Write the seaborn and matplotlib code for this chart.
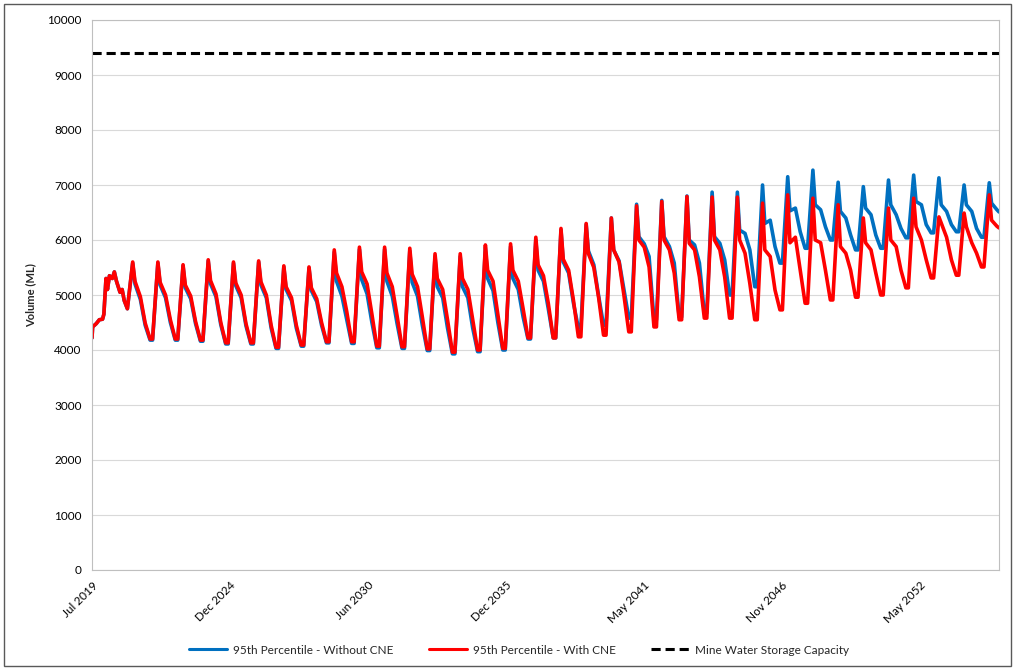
import pandas as pd
import matplotlib
matplotlib.use('Agg')
import matplotlib.pyplot as plt
from matplotlib.lines import Line2D
from matplotlib.patches import Rectangle
import seaborn as sns

# --- values (ML) ---
# first 16 months before the yearly cycle settles
start_dates = ['2019-07-01', '2019-07-10', '2019-09-01', '2019-10-15', '2019-12-01', '2019-12-20',
               '2020-01-20', '2020-02-10', '2020-03-10', '2020-04-20', '2020-05-20', '2020-06-20',
               '2020-08-10', '2020-09-10', '2020-10-10', '2020-11-25']
start_values = [4220, 4420, 4480, 4550, 4560, 4650, 5300, 5100, 5350, 5300, 5420, 5250,
                5050, 5100, 4900, 4750]

cycle_years = list(range(2021, 2056))
end_date = '2055-07-01'

# with CNE (red): yearly peak (Feb), drop (Mar), shoulder (Jun), late (Aug), trough (Oct-Nov)
red_peak = [5600, 5600, 5550, 5640, 5600, 5620, 5530, 5510,
            5820, 5870, 5870, 5850, 5750, 5750, 5910, 5930,
            6050, 6210, 6300, 6400, 6620, 6700, 6790, 6780, 6780, 6670,
            6820, 6760, 6640, 6400, 6580, 6760, 6420, 6490, 6820]
red_drop = [5250, 5230, 5180, 5260, 5220, 5240, 5150, 5130,
            5400, 5420, 5400, 5380, 5300, 5300, 5450, 5450,
            5550, 5650, 5750, 5820, 6000, 6000, 5940, 6000, 6000, 5820,
            5950, 6000, 5880, 5950, 6000, 6240, 6310, 6240, 6360]
red_shoulder = [4970, 5000, 4980, 5020, 5000, 5000, 4950, 4930,
                5150, 5200, 5150, 5150, 5100, 5100, 5250, 5250,
                5350, 5450, 5500, 5600, 5870, 5820, 5820, 5820, 5760, 5700,
                6050, 5950, 5760, 5820, 5880, 6000, 6050, 5950, 6250]
red_late = [4490, 4550, 4520, 4500, 4480, 4450, 4450, 4500,
            4700, 4650, 4620, 4600, 4550, 4550, 4650, 4750,
            4850, 4900, 4950, 5000, 5510, 5400, 5330, 5330, 5210, 5090,
            5450, 5450, 5450, 5400, 5450, 5640, 5640, 5760]
red_trough = [4200, 4200, 4180, 4130, 4130, 4050, 4090, 4150,
              4150, 4070, 4060, 4020, 3960, 4000, 4030, 4220,
              4220, 4240, 4270, 4330, 4420, 4550, 4580, 4580, 4550, 4730,
              4850, 4910, 4960, 5000, 5130, 5310, 5360, 5510]
red_end = 6220

# without CNE (blue)
blue_peak = [5580, 5580, 5530, 5620, 5580, 5600, 5510, 5490,
             5780, 5830, 5830, 5800, 5700, 5700, 5860, 5880,
             6000, 6180, 6280, 6400, 6650, 6720, 6800, 6870, 6870, 7000,
             7150, 7270, 7050, 6970, 7090, 7180, 7130, 7000, 7040]
blue_drop = [5200, 5180, 5130, 5200, 5170, 5180, 5100, 5080,
             5250, 5280, 5250, 5230, 5150, 5150, 5300, 5300,
             5450, 5600, 5800, 5820, 6060, 6060, 6000, 6060, 6180, 6300,
             6530, 6640, 6520, 6580, 6640, 6700, 6640, 6640, 6670]
blue_shoulder = [4920, 4950, 4930, 4970, 4950, 4950, 4900, 4880,
                 4980, 5020, 4980, 4980, 4950, 4950, 5080, 5100,
                 5250, 5400, 5550, 5620, 5930, 5880, 5910, 5940, 6120, 6360,
                 6580, 6550, 6400, 6460, 6460, 6640, 6520, 6520, 6550]
blue_late = [4450, 4500, 4480, 4460, 4440, 4400, 4400, 4450,
             4550, 4500, 4480, 4450, 4400, 4400, 4500, 4600,
             4750, 4850, 4980, 5100, 5700, 5580, 5580, 5640, 5820, 5880,
             6150, 6240, 6090, 6090, 6210, 6280, 6280, 6210]
blue_trough = [4180, 4180, 4160, 4110, 4110, 4030, 4070, 4130,
               4120, 4040, 4030, 3990, 3930, 3970, 4000, 4200,
               4220, 4400, 4450, 4580, 4550, 4600, 4670, 5000, 5150, 5580,
               5850, 6000, 5820, 5850, 6040, 6130, 6150, 6050]
blue_end = 6510

capacity = 9400

tick_dates = ['2019-07-01', '2024-12-22', '2030-06-13', '2035-12-04',
              '2041-05-26', '2046-11-16', '2052-05-08']
tick_labels = ['Jul 2019', 'Dec 2024', 'Jun 2030', 'Dec 2035', 'May 2041', 'Nov 2046', 'May 2052']

label_blue = '95th Percentile - Without CNE'
label_red = '95th Percentile - With CNE'
label_cap = 'Mine Water Storage Capacity'


def build_series(name, peak, drop, shoulder, late, trough, end_value):
    dates = list(start_dates)
    vals = list(start_values)
    for i, yr in enumerate(cycle_years):
        dates += [f'{yr}-02-10', f'{yr}-03-15', f'{yr}-06-01']
        vals += [peak[i], drop[i], shoulder[i]]
        if i < len(late):
            # the low stays flat for a few weeks before the next rise
            dates += [f'{yr}-08-10', f'{yr}-10-20', f'{yr}-11-25']
            vals += [late[i], trough[i], trough[i]]
    dates.append(end_date)
    vals.append(end_value)
    return pd.DataFrame({'date': pd.to_datetime(dates), 'volume': vals, 'series': name})


df = pd.concat([
    build_series(label_blue, blue_peak, blue_drop, blue_shoulder, blue_late, blue_trough, blue_end),
    build_series(label_red, red_peak, red_drop, red_shoulder, red_late, red_trough, red_end),
], ignore_index=True)

sns.set_style('white')
plt.rcParams['font.family'] = ['Lato', 'DejaVu Sans']

fig = plt.figure(figsize=(10.16, 6.7), dpi=100)
ax = fig.add_axes([92 / 1016, 1 - 570 / 670, (999 - 92) / 1016, 550 / 670])

palette = {label_blue: '#0070C0', label_red: '#FF0000'}
sns.lineplot(data=df, x='date', y='volume', hue='series', hue_order=[label_blue, label_red],
             palette=palette, estimator=None, sort=False, linewidth=2.6, ax=ax, legend=False)
ax.axhline(capacity, color='black', linewidth=2.2, dashes=(3, 1.6))

ax.set_xlim(pd.Timestamp(tick_dates[0]), pd.Timestamp(end_date))
ax.set_ylim(0, 10000)
ax.set_yticks(range(0, 10001, 1000))
ax.set_xticks(pd.to_datetime(tick_dates))
ax.set_xticklabels(tick_labels, rotation=45, ha='right', rotation_mode='anchor')
ax.tick_params(axis='both', labelsize=8.5, colors='#bfbfbf', labelcolor='black',
               direction='out', length=4, width=0.8)
ax.tick_params(axis='x', pad=3)
ax.grid(axis='y', color='#d9d9d9', linewidth=0.8)
ax.grid(axis='x', visible=False)
for side in ['left', 'right', 'top', 'bottom']:
    ax.spines[side].set_color('#bfbfbf')
    ax.spines[side].set_linewidth(0.8)
ax.set_xlabel('')
ax.set_ylabel('Volume (ML)', fontsize=8, fontweight='bold', labelpad=8)

handles = [Line2D([], [], color='#0070C0', linewidth=2.2),
           Line2D([], [], color='#FF0000', linewidth=2.2),
           Line2D([], [], color='black', linewidth=2.2, dashes=(3, 1.6))]
fig.legend(handles, [label_blue, label_red, label_cap], loc='center',
           bbox_to_anchor=(519 / 1016, 1 - 650 / 670), ncol=3, frameon=False,
           fontsize=8.5, handlelength=3.2, columnspacing=3, handletextpad=0.5)

fig.patches.append(Rectangle((4 / 1016, 4 / 670), 1007 / 1016, 662 / 670, transform=fig.transFigure,
                             fill=False, edgecolor='#595959', linewidth=1))

fig.savefig('out.png', dpi=100)
